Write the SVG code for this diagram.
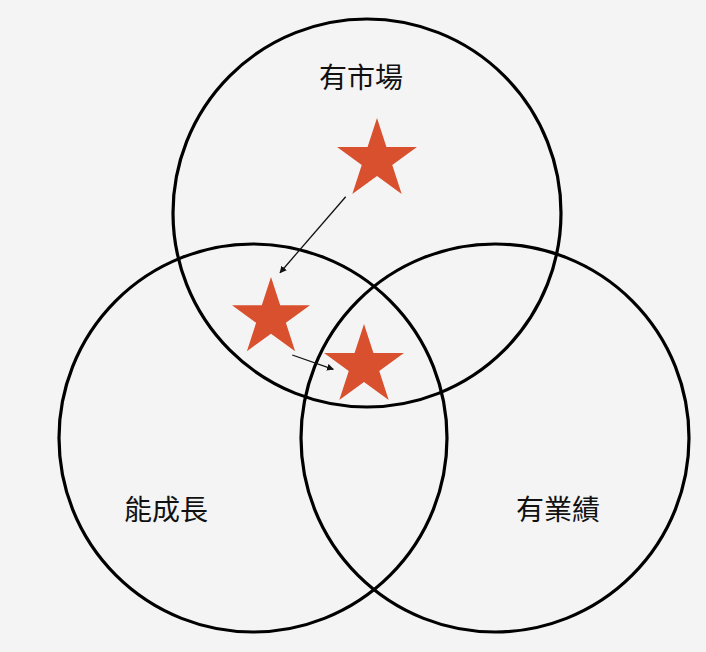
<svg xmlns="http://www.w3.org/2000/svg" width="706" height="652" viewBox="0 0 706 652">
<defs>
<style>
.c{fill:none;stroke:#000;stroke-width:3.2}
.s{fill:#D8502E}
.t{font-family:"Noto Sans CJK TC","Noto Sans CJK SC",sans-serif;font-size:28px;fill:#111;text-anchor:middle}
.a{stroke:#111;stroke-width:1.3;fill:none}
</style>
<marker id="ah" viewBox="0 0 10 10" refX="9" refY="5" markerWidth="7" markerHeight="7" markerUnits="userSpaceOnUse" orient="auto">
<path d="M0,0 L10,5 L0,10 z" fill="#111"/>
</marker>
<polygon id="star" points="0,-1 0.2245,-0.309 0.951,-0.309 0.3633,0.118 0.5878,0.809 0,0.382 -0.5878,0.809 -0.3633,0.118 -0.951,-0.309 -0.2245,-0.309"/>
</defs>
<rect width="706" height="652" fill="#F4F4F4"/>
<g id="circle-market">
<circle class="c" cx="367" cy="213" r="194"/>
<text class="t" x="361" y="88">有市場</text>
</g>
<g id="circle-growth">
<circle class="c" cx="253" cy="438" r="194"/>
<text class="t" x="166" y="520">能成長</text>
</g>
<g id="circle-performance">
<circle class="c" cx="495" cy="438" r="194"/>
<text class="t" x="558" y="520">有業績</text>
</g>
<g id="star1"><use href="#star" class="s" transform="translate(377,160) scale(42)"/></g>
<g id="star2"><use href="#star" class="s" transform="translate(271,318) scale(41)"/></g>
<g id="star3"><use href="#star" class="s" transform="translate(364,366) scale(42)"/></g>
<g id="connectors">
<line class="a" x1="345.7" y1="196.7" x2="280" y2="272.7" marker-end="url(#ah)"/>
<line class="a" x1="292.3" y1="355" x2="333.3" y2="369.3" marker-end="url(#ah)"/>
</g>
</svg>
